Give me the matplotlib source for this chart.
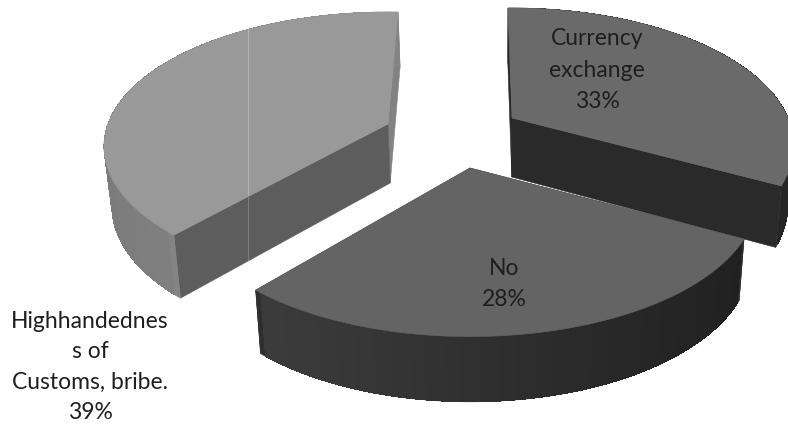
import numpy as np
import matplotlib
matplotlib.use("Agg")
import matplotlib.pyplot as plt
from matplotlib.patches import Polygon

# --- data
categories = ["Currency\nexchange", "No", "Highhandednes\ns of\nCustoms, bribe."]
percent = [33, 28, 39]

# --- style / layout
centres = [(512, 118), (470, 168), (388, 124)]
rotation = [1.0, 0.0, -2.4]
radius_x = [276.0, 280.0, 280.0]
radius_y = [132.0, 132.0, 130.8]
perspective = [0.20, 0.217, 0.168]
top_col = ["#6a6a6a", "#646464", "#999999"]
cut_first_col = ["#2a2a2a", "#2a2a2a", "#5d5d5d"]
cut_last_col = ["#2a2a2a", "#2a2a2a", "#828282"]
rim_left = ["#2c2c2c", "#3c3c3c", "#7c7c7c"]
rim_right = ["#262626", "#212121", "#8c8c8c"]
label_xy = [(597, 70), (504, 284), (90, 367)]
line_gap = [1.62, 1.58, 1.55]
START = 90.0
DEPTH, DEPTH_SLOPE = 59.0, 0.037
VX, XSHRINK = 500.0, 0.98

plt.rcParams["font.family"] = ["Lato", "DejaVu Sans"]
fig = plt.figure(figsize=(7.88, 4.25), dpi=100)
ax = fig.add_axes([0, 0, 1, 1])
ax.set_xlim(0, 788)
ax.set_ylim(425, 0)
ax.axis("off")


def top_pt(t, i):
    t = np.radians(t)
    d = 1 + perspective[i] * np.sin(t)
    c = centres[i]
    return np.column_stack([c[0] + radius_x[i] * np.cos(t) / d,
                            c[1] - radius_y[i] * np.sin(t) / d])


def base(p, i):
    p = np.atleast_2d(p)
    return np.column_stack([VX + XSHRINK * (p[:, 0] - VX),
                            p[:, 1] + DEPTH + DEPTH_SLOPE * (p[:, 1] - centres[i][1])])


def face(pts, col, z, aa=True):
    ax.add_patch(Polygon(pts, closed=True, fc=col, ec=col, lw=0.4, zorder=z, antialiased=aa))


def mix(a, b, f):
    ca, cb = np.array(matplotlib.colors.to_rgb(a)), np.array(matplotlib.colors.to_rgb(b))
    return tuple(ca + (cb - ca) * f)


order = [2, 0, 1]
angles = START - np.cumsum([0] + percent) * 3.6
seam_clips = []
for z, i in enumerate(order):
    a0, a1 = angles[i] + rotation[i], angles[i + 1] + rotation[i]
    ts = np.linspace(a0, a1, 160)
    arc = top_pt(ts, i)
    barc = base(arc, i)
    apex = np.array([centres[i]], dtype=float)
    bapex = base(apex, i)
    zb = z * 10
    first = np.vstack([apex, arc[:1], barc[:1], bapex])
    last = np.vstack([apex, arc[-1:], barc[-1:], bapex])
    face(last, cut_last_col[i], zb)
    face(first, cut_first_col[i], zb + 1)
    # outer rim: a solid outline with a smooth left-to-right shade on top
    rim = np.vstack([arc, barc[::-1]])
    face(rim, mix(rim_left[i], rim_right[i], 0.5), zb + 2)
    xmin, xmax = arc[:, 0].min(), arc[:, 0].max()
    for j in range(2, len(ts) - 4):
        f = (arc[j, 0] - xmin) / max(xmax - xmin, 1)
        seg = np.vstack([arc[j:j + 3], barc[j:j + 3][::-1]])
        ax.add_patch(Polygon(seg, closed=True, fc=mix(rim_left[i], rim_right[i], f),
                             ec="none", zorder=zb + 2.5, antialiased=False))
    top = np.vstack([apex, arc])
    face(top, top_col[i], zb + 3)
    if i == 2:
        seam_clips = [top, first]

# faint vertical seam across the light slice
for pts, col in zip(seam_clips, ["#b4b4b4", "#7c7c7c"]):
    line = ax.axvline(248, color=col, lw=0.8, zorder=15)
    line.set_clip_path(Polygon(pts, closed=True, transform=ax.transData))

for name, p, (x, y), gap in zip(categories, percent, label_xy, line_gap):
    ax.text(x, y, f"{name}\n{p}%", ha="center", va="center", fontsize=16.5,
            color="#1e1e1e", linespacing=gap, zorder=50)

fig.savefig("out.png", dpi=100, facecolor="white")
